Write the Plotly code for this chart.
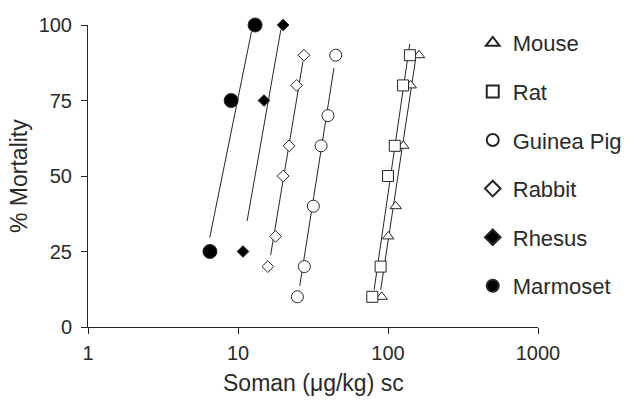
import plotly.graph_objects as go

# ---- data ----
species = ["Mouse", "Rat", "Guinea Pig", "Rabbit", "Rhesus", "Marmoset"]

mouse_x = [90.7, 100.4, 112.5, 126.4, 141.7, 161.0]
mouse_y = [10, 30, 40, 60, 80, 90]
rat_x = [78.6, 89.3, 100.0, 111.0, 126.0, 140.0]
rat_y = [10, 20, 50, 60, 80, 90]
gp_x = [24.9, 27.7, 31.8, 35.8, 39.8, 44.8]
gp_y = [10, 20, 40, 60, 70, 90]
rabbit_x = [15.8, 17.8, 20.0, 21.9, 24.6, 27.5]
rabbit_y = [20, 30, 50, 60, 80, 90]
rhesus_x = [10.8, 14.9, 20.0]
rhesus_y = [25, 75, 100]
marm_x = [6.5, 9.0, 13.0]
marm_y = [25, 75, 100]

# fitted lines (end points)
mouse_fit_x = [89.4, 152.8]
mouse_fit_y = [12.3, 88.7]
rat_fit_x = [80.8, 139.6]
rat_fit_y = [12.3, 93.7]
gp_fit_x = [25.8, 43.6]
gp_fit_y = [13.6, 85.7]
rabbit_fit_x = [16.5, 27.1]
rabbit_fit_y = [23.8, 87.9]
rhesus_fit_x = [11.5, 19.3]
rhesus_fit_y = [35.1, 98.4]
marm_fit_x = [6.48, 12.3]
marm_fit_y = [29.6, 97.8]

x_ticks = [1, 10, 100, 1000]
y_ticks = [0, 25, 50, 75, 100]
x_title = "Soman (μg/kg) sc"
y_title = "% Mortality"

INK = "#262626"
TXT = "#2a2a2a"
FONT = "Liberation Sans, Arial, sans-serif"

fig = go.Figure()

fits = [
    (mouse_fit_x, mouse_fit_y), (rat_fit_x, rat_fit_y), (gp_fit_x, gp_fit_y),
    (rabbit_fit_x, rabbit_fit_y), (rhesus_fit_x, rhesus_fit_y), (marm_fit_x, marm_fit_y),
]
for fx, fy in fits:
    fig.add_trace(go.Scatter(x=fx, y=fy, mode="lines", line=dict(color=INK, width=1),
                             showlegend=False, hoverinfo="skip", cliponaxis=False))

series = [
    ("Mouse", mouse_x, mouse_y, "triangle-up", "white", 10),
    ("Rat", rat_x, rat_y, "square", "white", 11),
    ("Guinea Pig", gp_x, gp_y, "circle", "white", 12),
    ("Rabbit", rabbit_x, rabbit_y, "diamond", "white", 9),
    ("Rhesus", rhesus_x, rhesus_y, "diamond", "black", 9),
    ("Marmoset", marm_x, marm_y, "circle", "black", 14),
]
for name, xs, ys, sym, fill, size in series:
    fig.add_trace(go.Scatter(
        x=xs, y=ys, mode="markers", name=name, legendgroup=name,
        marker=dict(symbol=sym, color=fill, size=size, line=dict(color=INK, width=1)),
        cliponaxis=False,
    ))

fig.update_layout(
    width=627, height=400,
    margin=dict(l=88, r=89, t=25, b=73, autoexpand=False),
    paper_bgcolor="white", plot_bgcolor="white",
    font=dict(family=FONT, color=TXT, size=20),
    showlegend=True,
    legend=dict(x=0.855, y=1.01, xanchor="left", yanchor="top",
                font=dict(size=22, color=TXT), tracegroupgap=17, maxheight=395,
                itemsizing="constant", bgcolor="rgba(0,0,0,0)"),
    xaxis=dict(type="log", range=[0, 3], tickvals=x_ticks, ticktext=[str(v) for v in x_ticks],
               showline=True, linecolor=INK, linewidth=1, ticks="outside", ticklen=6,
               tickcolor=INK, showgrid=False, zeroline=False, tickfont=dict(size=20),
               ticklabelstandoff=2, automargin=False),
    yaxis=dict(range=[0, 100], tickvals=y_ticks, showline=True, linecolor=INK, linewidth=1,
               ticks="outside", ticklen=6, tickcolor=INK, showgrid=False, zeroline=False,
               tickfont=dict(size=20), ticklabelstandoff=5, automargin=False),
    annotations=[
        dict(text=x_title, xref="paper", yref="paper", x=0.5, y=0, xanchor="center",
             yanchor="middle", yshift=-56, showarrow=False, font=dict(size=23, color=TXT)),
        dict(text=y_title, xref="paper", yref="paper", x=0, y=0.5, xanchor="center",
             yanchor="middle", xshift=-69, textangle=-90, showarrow=False,
             font=dict(size=23, color=TXT)),
    ],
)

# remove the default 8px page margin so the figure sits at the window's corner
fig.write_html("out.html", config={"displayModeBar": False},
               post_script="document.body.style.margin='0px';document.body.style.overflow='hidden';")
